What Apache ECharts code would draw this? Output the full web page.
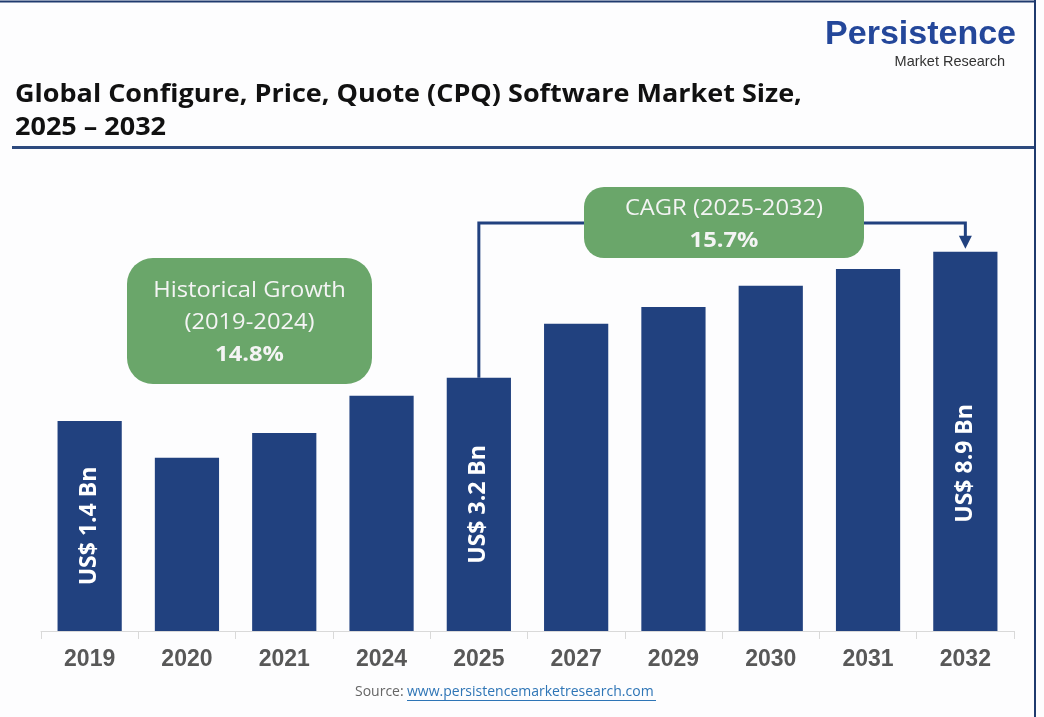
<!DOCTYPE html>
<html>
<head>
<meta charset="utf-8">
<title>CPQ Software Market Size</title>
<script src="https://cdn.jsdelivr.net/npm/echarts@6/dist/echarts.min.js"></script>
<style>
    html, body { margin: 0; padding: 0; background: #fdfdfe; }
    #chart { width: 1044px; height: 717px; }
</style>
</head>
<body>
<div id="chart"></div>
<script>
// years on the axis
var years = ['2019', '2020', '2021', '2024', '2025', '2027', '2029', '2030', '2031', '2032'];
// bar heights as drawn in the picture (relative units, 0-100 scale)
var barHeights = [52.5, 43.3, 49.5, 58.8, 63.3, 76.8, 81.0, 86.3, 90.5, 94.8];
// value labels written inside some bars
var barLabels = ['US$ 1.4 Bn', '', '', '', 'US$ 3.2 Bn', '', '', '', '', 'US$ 8.9 Bn'];

var histBox = ['Historical Growth', '(2019-2024)', '14.8%'];
var cagrBox = ['CAGR (2025-2032)', '15.7%'];

var navy = '#21417f';
var green = '#6aa66a';
var boxFont = '"Open Sans", "Noto Sans", sans-serif';

var myChart = echarts.init(document.getElementById('chart'));

// the last bar's label sits a little below the bar's middle in the original
// (label is rotated, so its local x runs up the bar)
var barData = barHeights.map(function (v, i) {
    if (i === barHeights.length - 1) {
        return { value: v, label: { offset: [-22, 0] } };
    }
    return v;
});

var option = {
    animation: false,
    backgroundColor: '#fdfdfe',
    grid: { left: 41, right: 30, top: 231, bottom: 86 },
    xAxis: {
        type: 'category',
        data: years,
        axisLine: { lineStyle: { color: '#d9d9d9', width: 1 } },
        axisTick: { show: true, length: 8, lineStyle: { color: '#d9d9d9' } },
        axisLabel: {
            margin: 17,
            fontSize: 23,
            fontWeight: 'bold',
            color: '#585858',
            fontFamily: '"Liberation Sans", Arial, sans-serif'
        }
    },
    yAxis: { type: 'value', min: 0, max: 100, show: false },
    series: [{
        type: 'bar',
        data: barData,
        barCategoryGap: '34%',
        itemStyle: { color: navy },
        label: {
            show: true,
            position: 'inside',
            rotate: 90,
            color: '#ffffff',
            fontSize: 23,
            fontWeight: 'bold',
            fontFamily: boxFont,
            formatter: function (p) { return barLabels[p.dataIndex]; }
        }
    }]
};

myChart.setOption(option);

// connector from the 2025 bar to the 2032 bar, placed through the chart's own scale
var p25 = myChart.convertToPixel({ seriesIndex: 0 }, [years[4], barHeights[4]]);
var p32 = myChart.convertToPixel({ seriesIndex: 0 }, [years[9], barHeights[9]]);
var lineY = 223;

function boxText(x, y, text, bold) {
    return {
        type: 'text', x: x, y: y, z: 20, scaleX: 1.13,
        style: {
            text: text, fill: '#f4f4f4', font: (bold ? 'bold ' : '') + '21px ' + boxFont,
            textAlign: 'center', textVerticalAlign: 'middle'
        }
    };
}

var graphics = [
    // frame
    { type: 'line', shape: { x1: 0, y1: 1.5, x2: 1036, y2: 1.5 }, style: { stroke: '#1f3a6e', lineWidth: 2 } },
    { type: 'line', shape: { x1: 1035, y1: 0, x2: 1035, y2: 717 }, style: { stroke: '#1f3a6e', lineWidth: 2 } },
    // logo
    {
        type: 'text', x: 1016, y: 52,
        style: { text: 'Persistence', fill: '#24479a', font: 'bold 34px "Liberation Sans", Arial, sans-serif', textAlign: 'right', textVerticalAlign: 'bottom' }
    },
    {
        type: 'text', x: 1005, y: 69,
        style: { text: 'Market Research', fill: '#333333', font: '14.5px "Liberation Sans", Arial, sans-serif', textAlign: 'right', textVerticalAlign: 'bottom' }
    },
    // title
    {
        type: 'text', x: 15, y: 95, scaleX: 1.08,
        style: { text: 'Global Configure, Price, Quote (CPQ) Software Market Size,', fill: '#111111', font: 'bold 25px ' + boxFont, textVerticalAlign: 'middle' }
    },
    {
        type: 'text', x: 15, y: 128, scaleX: 1.08,
        style: { text: '2025 \u2013 2032', fill: '#111111', font: 'bold 25px ' + boxFont, textVerticalAlign: 'middle' }
    },
    { type: 'line', shape: { x1: 12, y1: 147.5, x2: 1034, y2: 147.5 }, style: { stroke: '#2d4a7e', lineWidth: 3 } },
    // connector
    {
        type: 'polyline', z: 5,
        shape: { points: [[p25[0], p25[1]], [p25[0], lineY], [p32[0], lineY], [p32[0], p32[1] - 14]] },
        style: { stroke: navy, lineWidth: 3, fill: null }
    },
    {
        type: 'polygon', z: 5,
        shape: { points: [[p32[0] - 6.5, p32[1] - 16], [p32[0] + 6.5, p32[1] - 16], [p32[0], p32[1] - 3]] },
        style: { fill: navy }
    },
    // historical growth box
    { type: 'rect', z: 10, shape: { x: 127, y: 258, width: 245, height: 126, r: 26 }, style: { fill: green } },
    boxText(249.5, 291, histBox[0], false),
    boxText(249.5, 323, histBox[1], false),
    boxText(249.5, 355, histBox[2], true),
    // cagr box
    { type: 'rect', z: 10, shape: { x: 584, y: 187, width: 280, height: 71, r: 20 }, style: { fill: green } },
    boxText(724, 209, cagrBox[0], false),
    boxText(724, 241, cagrBox[1], true),
    // source
    {
        type: 'text', x: 355, y: 692,
        style: { text: 'Source:', fill: '#666666', font: '14px ' + boxFont, textVerticalAlign: 'middle' }
    },
    {
        type: 'text', x: 407, y: 692,
        style: { text: 'www.persistencemarketresearch.com', fill: '#2e75b6', font: '14px ' + boxFont, textVerticalAlign: 'middle' }
    },
    { type: 'line', shape: { x1: 407, y1: 700.5, x2: 656, y2: 700.5 }, style: { stroke: '#2e75b6', lineWidth: 1 } }
];

myChart.setOption({ graphic: graphics });
</script>
</body>
</html>
